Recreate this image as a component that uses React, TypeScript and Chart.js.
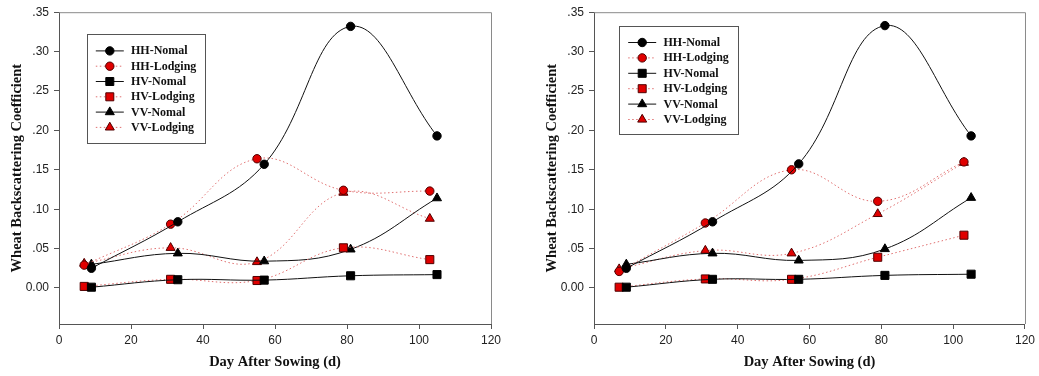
import React, { useEffect, useRef } from "react";
import { Chart, registerables } from "chart.js";

Chart.register(...registerables);

// ---------------- data ----------------
const daysNomal = [9, 33, 57, 81, 105];
const daysLodging = [7, 31, 55, 79, 103];

const seriesNames = ["HH-Nomal", "HH-Lodging", "HV-Nomal", "HV-Lodging", "VV-Nomal", "VV-Lodging"];

// left panel
const hhNomalA = [0.025, 0.084, 0.157, 0.332, 0.193];
const hhLodgingA = [0.029, 0.081, 0.164, 0.124, 0.123];
const hvNomalA = [0.001, 0.0105, 0.010, 0.0155, 0.017];
const hvLodgingA = [0.002, 0.011, 0.0095, 0.051, 0.036];
const vvNomalA = [0.030, 0.044, 0.034, 0.049, 0.114];
const vvLodgingA = [0.031, 0.051, 0.033, 0.121, 0.088];

// right panel
const hhNomalB = [0.025, 0.084, 0.1575, 0.333, 0.193];
const hhLodgingB = [0.021, 0.0825, 0.150, 0.110, 0.160];
const hvNomalB = [0.001, 0.011, 0.011, 0.016, 0.0175];
const hvLodgingB = [0.001, 0.0115, 0.011, 0.039, 0.067];
const vvNomalB = [0.030, 0.044, 0.035, 0.0495, 0.1145];
const vvLodgingB = [0.024, 0.0475, 0.044, 0.094, 0.159];

const xTicks = [0, 20, 40, 60, 80, 100, 120];
const yTicks = [0, 0.05, 0.1, 0.15, 0.2, 0.25, 0.3, 0.35];

// ---------------- styles ----------------
const BLACK = "#000000";
const RED = "#e00000";
const RED_LINE = "#e07070";
const AXIS = "#555555";
const FRAME = "#8a8a8a";
const SERIF = "'Liberation Serif', 'Times New Roman', serif";
const SANS = "'Liberation Sans', Arial, sans-serif";

const shapes = ["circle", "circle", "rect", "rect", "triangle", "triangle"];
const isLodging = [false, true, false, true, false, true];

function drawMarker(ctx: CanvasRenderingContext2D, shape: string, x: number, y: number, fill: string, stroke: string) {
  ctx.save();
  ctx.fillStyle = fill;
  ctx.strokeStyle = stroke;
  ctx.lineWidth = 1;
  ctx.setLineDash([]);
  ctx.beginPath();
  if (shape === "circle") {
    ctx.arc(x, y, 4.2, 0, Math.PI * 2);
  } else if (shape === "rect") {
    ctx.rect(x - 4, y - 4, 8, 8);
  } else {
    const r = 5.2;
    ctx.moveTo(x, y - r);
    ctx.lineTo(x + r * 0.866, y + r * 0.5);
    ctx.lineTo(x - r * 0.866, y + r * 0.5);
    ctx.closePath();
  }
  ctx.fill();
  ctx.stroke();
  ctx.restore();
}

const framePlugin = {
  id: "frame",
  beforeDatasetsDraw(chart: any) {
    const { ctx, chartArea } = chart;
    ctx.save();
    ctx.strokeStyle = FRAME;
    ctx.lineWidth = 1;
    ctx.beginPath();
    ctx.moveTo(chartArea.left, chartArea.top + 0.5);
    ctx.lineTo(chartArea.right + 0.5, chartArea.top + 0.5);
    ctx.lineTo(chartArea.right + 0.5, chartArea.bottom);
    ctx.stroke();
    ctx.restore();
  },
};

const legendBoxPlugin = {
  id: "legendBox",
  afterDraw(chart: any, _args: any, opts: any) {
    const { ctx, chartArea } = chart;
    const bx = Math.round(chartArea.left + opts.dx) + 0.5;
    const by = Math.round(chartArea.top + opts.dy) + 0.5;
    ctx.save();
    ctx.fillStyle = "#ffffff";
    ctx.fillRect(bx, by, opts.w, opts.h);
    ctx.strokeStyle = "#555555";
    ctx.lineWidth = 1;
    ctx.strokeRect(bx, by, opts.w, opts.h);
    chart.data.datasets.forEach((ds: any, i: number) => {
      const y = by + opts.firstRow + i * opts.rowGap;
      const x0 = bx + opts.lineStart;
      const x1 = x0 + opts.lineLen;
      ctx.save();
      ctx.strokeStyle = isLodging[i] ? RED_LINE : "#111111";
      ctx.lineWidth = 1;
      ctx.setLineDash(isLodging[i] ? [1.5, 2.5] : []);
      ctx.beginPath();
      ctx.moveTo(x0, y);
      ctx.lineTo(x1, y);
      ctx.stroke();
      ctx.restore();
      drawMarker(ctx, shapes[i], (x0 + x1) / 2, y, isLodging[i] ? RED : BLACK, isLodging[i] ? "#500000" : BLACK);
      ctx.fillStyle = "#111111";
      ctx.font = `bold 12px ${SERIF}`;
      ctx.textBaseline = "middle";
      ctx.textAlign = "left";
      ctx.fillText(ds.label, bx + opts.textStart, y + 0.5);
    });
    ctx.restore();
  },
};

function makePoints(xs: number[], ys: number[]) {
  return xs.map((x, i) => ({ x, y: ys[i] }));
}

type PanelProps = {
  left: number;
  width: number;
  padTop: number;
  padRight: number;
  series: number[][];
  legend: any;
};

function Panel({ left, width, padTop, padRight, series, legend }: PanelProps) {
  const ref = useRef<HTMLCanvasElement | null>(null);
  useEffect(() => {
    if (!ref.current) return;
    const datasets = series.map((vals, i) => {
      const lod = isLodging[i];
      return {
        label: seriesNames[i],
        data: makePoints(lod ? daysLodging : daysNomal, vals),
        borderColor: lod ? RED_LINE : "#111111",
        borderWidth: 1,
        borderDash: lod ? [1.5, 2.5] : [],
        tension: 0.4,
        pointStyle: shapes[i],
        pointRadius: shapes[i] === "rect" ? 5.7 : shapes[i] === "triangle" ? 5.2 : 4.2,
        pointBackgroundColor: lod ? RED : BLACK,
        pointBorderColor: lod ? "#500000" : BLACK,
        pointBorderWidth: 1,
        fill: false,
      };
    });
    const chart = new Chart(ref.current, {
      type: "line",
      data: { datasets },
      plugins: [framePlugin, legendBoxPlugin],
      options: {
        animation: false,
        responsive: false,
        maintainAspectRatio: false,
        events: [],
        layout: { padding: { left: 0, right: padRight, top: padTop, bottom: 0 } },
        plugins: {
          legend: { display: false },
          tooltip: { enabled: false },
          legendBox: legend,
        } as any,
        scales: {
          x: {
            type: "linear",
            min: 0,
            max: 120,
            afterBuildTicks: (scale: any) => {
              scale.ticks = xTicks.map((v) => ({ value: v }));
            },
            afterFit: (scale: any) => {
              scale.height = 52;
            },
            ticks: {
              color: "#222222",
              font: { family: SANS, size: 12 },
              padding: 4,
              maxRotation: 0,
              autoSkip: false,
            },
            grid: {
              display: true,
              drawOnChartArea: false,
              drawTicks: true,
              tickLength: 5,
              color: AXIS,
            },
            border: { display: true, color: AXIS, width: 1 },
            title: {
              display: true,
              text: "Day After Sowing (d)",
              color: "#111111",
              font: { family: SERIF, size: 14.5, weight: "bold" },
              padding: { top: 0, bottom: 4.8 },
            },
          },
          y: {
            type: "linear",
            min: -0.0457,
            max: 0.35,
            afterBuildTicks: (scale: any) => {
              scale.ticks = yTicks.map((v) => ({ value: v }));
            },
            afterFit: (scale: any) => {
              scale.width = 59;
            },
            ticks: {
              color: "#222222",
              font: { family: SANS, size: 12 },
              padding: 5,
              autoSkip: false,
              callback: (v: any) => {
                const n = Number(v);
                if (Math.abs(n) < 1e-9) return "0.00";
                return n.toFixed(2).replace(/^0/, "");
              },
            },
            grid: {
              display: true,
              drawOnChartArea: false,
              drawTicks: true,
              tickLength: 5,
              color: AXIS,
            },
            border: { display: true, color: AXIS, width: 1 },
            title: {
              display: true,
              text: "Wheat Backscattering Coefficient",
              color: "#111111",
              font: { family: SERIF, size: 14.5, weight: "bold" },
              padding: { top: 8.8, bottom: 0 },
            },
          },
        },
      } as any,
    });
    return () => chart.destroy();
  }, []);
  return (
    <div style={{ position: "absolute", left, top: 0, width, height: 376 }}>
      <canvas ref={ref} width={width} height={376} style={{ display: "block", width, height: 376 }} />
    </div>
  );
}

export default function App() {
  return (
    <div
      style={{
        position: "fixed",
        left: 0,
        top: 0,
        width: 1039,
        height: 376,
        background: "#ffffff",
        overflow: "hidden",
      }}
    >
      <Panel
        left={0}
        width={520}
        padTop={12}
        padRight={29}
        series={[hhNomalA, hhLodgingA, hvNomalA, hvLodgingA, vvNomalA, vvLodgingA]}
        legend={{ dx: 27.5, dy: 22, w: 118, h: 109, firstRow: 16.4, rowGap: 15.3, lineStart: 8.3, lineLen: 28, textStart: 43.5 }}
      />
      <Panel
        left={535}
        width={504}
        padTop={11}
        padRight={11}
        series={[hhNomalB, hhLodgingB, hvNomalB, hvLodgingB, vvNomalB, vvLodgingB]}
        legend={{ dx: 24.5, dy: 14, w: 119, h: 108, firstRow: 16, rowGap: 15.4, lineStart: 8.7, lineLen: 28, textStart: 44 }}
      />
    </div>
  );
}
